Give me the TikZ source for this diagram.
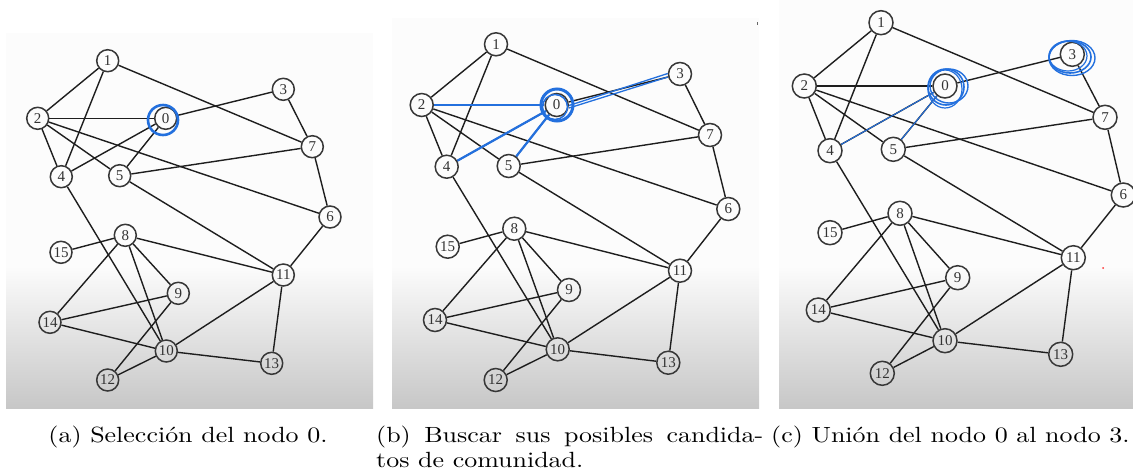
\documentclass[tikz,border=0pt]{standalone}
\usepackage{fontspec}
\usepackage{graphicx}
\newfontfamily\capfont{lmroman10-regular}[Extension=.otf]
\newfontfamily\lblfont{Liberation Serif}
\definecolor{hlblue}{RGB}{35,112,222}
\definecolor{edgec}{RGB}{30,30,30}
\definecolor{nodec}{RGB}{55,55,55}
\tikzset{
  vtx/.style={circle,draw=nodec,line width=1.5pt,inner sep=0pt,minimum size=#1,font=\lblfont\fontsize{15}{15}\selectfont,text=black!80},
  vtx/.default=22pt,
  edge/.style={draw=edgec,line width=1.4pt},
  hl/.style={draw=hlblue,line width=2.6pt},
  hlthin/.style={draw=hlblue,line width=1pt},
  panelbg/.style={fill=black!1,draw=none},
  panelgrad/.style={top color=black!1,bottom color=black!22,draw=none},
  captxt/.style={font=\capfont\fontsize{22}{25}\selectfont,inner sep=0pt}
}
\newcommand\capstretch[1]{\scalebox{1.18}[1]{#1}}
\newcommand\drawedges[1]{%
  \foreach \u/\v in {1/2,1/4,1/7,2/0,2/4,2/5,2/6,0/3,0/4,0/5,3/7,7/5,7/6,6/11,5/11,4/10,8/15,8/14,8/11,8/9,8/10,9/14,9/12,14/10,10/12,10/11,10/13,11/13}
    {\draw[edge] (#1\u) -- (#1\v);}}
\begin{document}
\begin{tikzpicture}[x=1pt,y=-1pt]
\useasboundingbox (0,0) rectangle (1133,475);
% ---------- panel backgrounds ----------
\fill[panelbg] (6,33) rectangle (373,266);
\shade[panelgrad] (6,265) rectangle (373,408);
\fill[panelbg] (392,18) rectangle (759,266);
\shade[panelgrad] (392,265) rectangle (759,408);
\fill[panelbg] (779,0) rectangle (1133,266);
\shade[panelgrad] (779,265) rectangle (1133,408);
% ---------- panel (a) ----------
\foreach \n/\x/\y in {1/107.7/60.7,3/283.3/89.3,2/37.7/118.3,0/165.7/118.3,7/312.3/146.7,4/61.3/176.7,5/119.7/175.7,6/330/217,8/125.3/235.3,15/61/252.3,11/283.3/275,9/178.3/293.3,14/50/322.3,10/166.3/351,13/271.7/363.3,12/107.7/380}
  {\node[vtx=22pt] (a\n) at (\x,\y) {\n};}
\drawedges{a}
\draw[hl] (163,120) circle (15);
% ---------- panel (b) ----------
\foreach \n/\x/\y in {1/496/44.3,3/680/74,2/421.7/105,0/556.7/105,7/710/135,4/446.7/166.7,5/508.7/166,6/728.3/209,8/514.3/228.7,15/447.7/246.7,11/680/270.7,9/569/290,14/435/320,10/557.7/349.3,13/668.3/362.7,12/495.7/380}
  {\node[vtx=23pt] (b\n) at (\x,\y) {\n};}
\drawedges{b}
\draw[hl,line width=2.2pt] (b2) -- (b0);
\draw[hl,line width=2.2pt] (b4) -- (b0);
\draw[hl,line width=2.2pt] (b5) -- (b0);
\draw[hlthin,line width=1.3pt] ([yshift=-3pt]b0.east) -- ([yshift=-3pt]b3.west);
\draw[hlthin,line width=1.3pt] ([yshift=-0.5pt]b0.east) -- ([yshift=0.5pt]b3.west);
\draw[hl,line width=3pt] (557,105) circle (16);
\draw[hl,line width=1.5pt] (555,107) circle (12.5);
\fill[black!60] (757,22) rectangle (758,25);
% ---------- panel (c) ----------
\foreach \n/\x/\y in {1/881/22.7,3/1072.3/54.3,2/804.3/86,0/945/86,7/1105/117.3,4/830/150.7,5/893.3/149.3,6/1123.3/195,8/900/213.3,15/830/232.7,11/1073.3/257.7,9/957.7/277.7,14/818.3/310,10/945/340.7,13/1060.7/354.3,12/882.3/373.3}
  {\node[vtx=24pt] (c\n) at (\x,\y) {\n};}
\drawedges{c}
\draw[hlthin] (c4) -- (c0);
\draw[hlthin] (c5) -- (c0);
\draw[hl,line width=1.6pt] (946,87) ellipse (18 and 18);
\draw[hl,line width=1.4pt] (949,86) ellipse (19 and 17);
\draw[hl,line width=1.2pt] (945,89) ellipse (17 and 19);
\draw[hl,line width=1.6pt] (1070,57) ellipse (21 and 16);
\draw[hl,line width=1.4pt] (1072,58) ellipse (23 and 17.5);
\draw[hl,line width=1.2pt] (1068,56) ellipse (19 and 15);
\fill[red!80] (1103,268) circle (1);
% ---------- captions ----------
\node[captxt,anchor=base] (capa) at (188,442) {\capstretch{(a) Selección del nodo 0.}};
\node[captxt,anchor=base west] (capb) at (376,442) {\capstretch{\parbox[t]{328pt}{(b) Buscar sus posibles candida-\linebreak tos de comunidad.}}};
\node[captxt,anchor=base west] (capc) at (771,442) {\capstretch{(c) Unión del nodo 0 al nodo 3.}};
\end{tikzpicture}
\end{document}
